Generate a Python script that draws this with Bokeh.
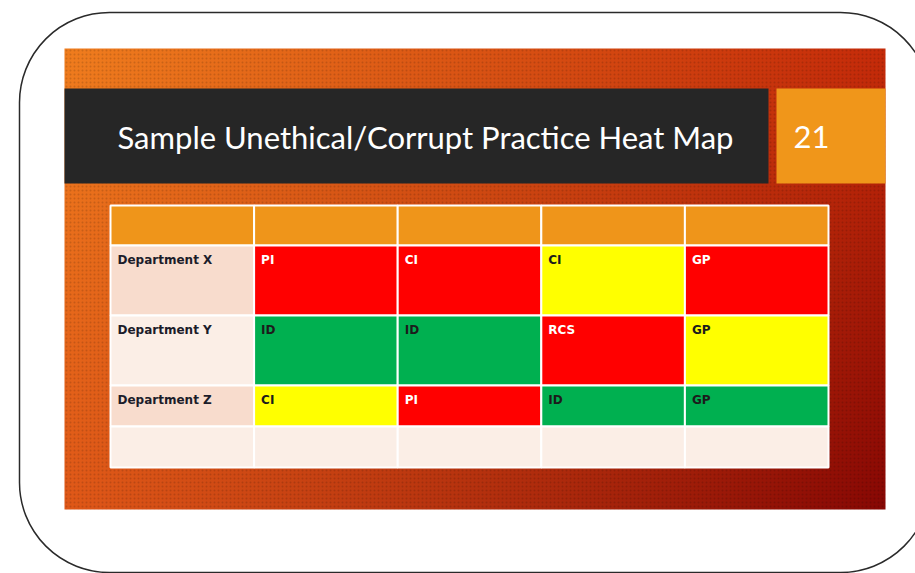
import numpy as np
from bokeh.plotting import figure
from bokeh.models import Range1d, BoxAnnotation, ColumnDataSource
from bokeh.embed import file_html
from bokeh.resources import INLINE
from bokeh.core.properties import value

# ---------------- data ----------------
title_text = "Sample Unethical/Corrupt Practice Heat Map"
slide_number = "21"
departments = ["Department X", "Department Y", "Department Z"]
dept_x_codes = ["PI", "CI", "CI", "GP"]
dept_y_codes = ["ID", "ID", "RCS", "GP"]
dept_z_codes = ["CI", "PI", "ID", "GP"]
dept_x_risk = ["High", "High", "Medium", "High"]
dept_y_risk = ["Low", "Low", "High", "Medium"]
dept_z_risk = ["Medium", "High", "Low", "Low"]
risk_levels = ["High", "Medium", "Low"]
risk_colors = ["#FF0000", "#FFFF00", "#00B050"]
risk_text_colors = ["#FFFFFF", "#1C1C1C", "#1C1C1C"]

# ---------------- layout (page pixels) ----------------
W, H = 915, 573
def fy(py):
    return H - py

SLIDE_L, SLIDE_R, SLIDE_T, SLIDE_B = 64, 885, 48, 509
BAR_T, BAR_B = 88, 183
TITLE_R = 768
NUM_L = 776
TBL_L, TBL_T = 110, 205
COL_W = 143.6
ROW_H = [40, 70, 70, 41, 41]

p = figure(width=W, height=H, output_backend="svg", toolbar_location=None,
           x_range=Range1d(0, W), y_range=Range1d(0, H), min_border=0)
p.axis.visible = False
p.grid.visible = False
p.outline_line_color = None
p.background_fill_color = "white"
p.border_fill_color = "white"

# ---------------- slide background gradient ----------------
nx, ny = 200, 120
tl = np.array([0xF0, 0x7D, 0x1E], float)
tr = np.array([0xC6, 0x2C, 0x0A], float)
bl = np.array([0xE0, 0x58, 0x18], float)
br = np.array([0x88, 0x08, 0x04], float)
u = np.linspace(0, 1, nx)[None, :, None]
v = np.linspace(0, 1, ny)[:, None, None]  # 0 = bottom row
top = tl * (1 - u) + tr * u
bot = bl * (1 - u) + br * u
rgb = bot * (1 - v) + top * v
img = np.empty((ny, nx), dtype=np.uint32)
view = img.view(dtype=np.uint8).reshape((ny, nx, 4))
view[:, :, 0] = rgb[:, :, 0].astype(np.uint8)
view[:, :, 1] = rgb[:, :, 1].astype(np.uint8)
view[:, :, 2] = rgb[:, :, 2].astype(np.uint8)
view[:, :, 3] = 255
p.image_rgba(image=[img], x=SLIDE_L, y=fy(SLIDE_B), dw=SLIDE_R - SLIDE_L, dh=SLIDE_B - SLIDE_T)

# subtle dotted texture
p.quad(left=[SLIDE_L], right=[SLIDE_R], top=[fy(SLIDE_T)], bottom=[fy(SLIDE_B)],
       fill_alpha=0, line_color=None, hatch_pattern="dot", hatch_scale=4,
       hatch_color="#000000", hatch_alpha=0.14, hatch_weight=1)

# ---------------- title bar & number ----------------
p.quad(left=[SLIDE_L], right=[TITLE_R], top=[fy(BAR_T)], bottom=[fy(BAR_B)],
       fill_color="#262626", line_color=None)
p.quad(left=[NUM_L], right=[SLIDE_R], top=[fy(BAR_T)], bottom=[fy(BAR_B)],
       fill_color="#F0961A", line_color=None)
p.text(x=[117], y=[fy(136)], text=[title_text], text_color="white",
       text_font=value("Lato"), text_font_size="31px", text_baseline="middle")
p.text(x=[793], y=[fy(136)], text=[slide_number], text_color="white",
       text_font=value("Lato"), text_font_size="31px", text_baseline="middle")

# ---------------- table ----------------
row_tops = [TBL_T]
for h in ROW_H:
    row_tops.append(row_tops[-1] + h)

cells = dict(left=[], right=[], top=[], bottom=[], color=[])
labels = dict(x=[], y=[], text=[], color=[])

def add_cell(ci, ri, color):
    cells["left"].append(TBL_L + ci * COL_W)
    cells["right"].append(TBL_L + (ci + 1) * COL_W)
    cells["top"].append(fy(row_tops[ri]))
    cells["bottom"].append(fy(row_tops[ri + 1]))
    cells["color"].append(color)

n_cols = 1 + len(dept_x_codes)
for ci in range(n_cols):
    add_cell(ci, 0, "#EF951A")

first_col_colors = ["#F8DCCD", "#FBEEE6", "#F8DCCD"]
all_codes = [dept_x_codes, dept_y_codes, dept_z_codes]
all_risk = [dept_x_risk, dept_y_risk, dept_z_risk]
for di, dept in enumerate(departments):
    ri = di + 1
    add_cell(0, ri, first_col_colors[di])
    labels["x"].append(TBL_L + 7)
    labels["y"].append(fy(row_tops[ri] + 7))
    labels["text"].append(dept)
    labels["color"].append("#1C1C2A")
    for ci, (code, risk) in enumerate(zip(all_codes[di], all_risk[di])):
        k = risk_levels.index(risk)
        add_cell(ci + 1, ri, risk_colors[k])
        labels["x"].append(TBL_L + (ci + 1) * COL_W + 7)
        labels["y"].append(fy(row_tops[ri] + 7))
        labels["text"].append(code)
        labels["color"].append(risk_text_colors[k])

for ci in range(n_cols):
    add_cell(ci, len(ROW_H) - 1, "#FBEEE6")

p.quad(left="left", right="right", top="top", bottom="bottom",
       fill_color="color", line_color="white", line_width=2,
       source=ColumnDataSource(cells))
p.text(x="x", y="y", text="text", text_color="color",
       text_font=value("DejaVu Sans"), text_font_style="bold",
       text_font_size="12px", text_baseline="top",
       source=ColumnDataSource(labels))

# ---------------- rounded frame ----------------
frame = BoxAnnotation(left=19, right=930, top=fy(12), bottom=fy(572),
                      fill_alpha=0, line_color="#2A2A2A", line_alpha=1.0,
                      line_width=1.5, border_radius=90)
p.add_layout(frame)

open("out.html", "w").write(file_html(p, INLINE))
